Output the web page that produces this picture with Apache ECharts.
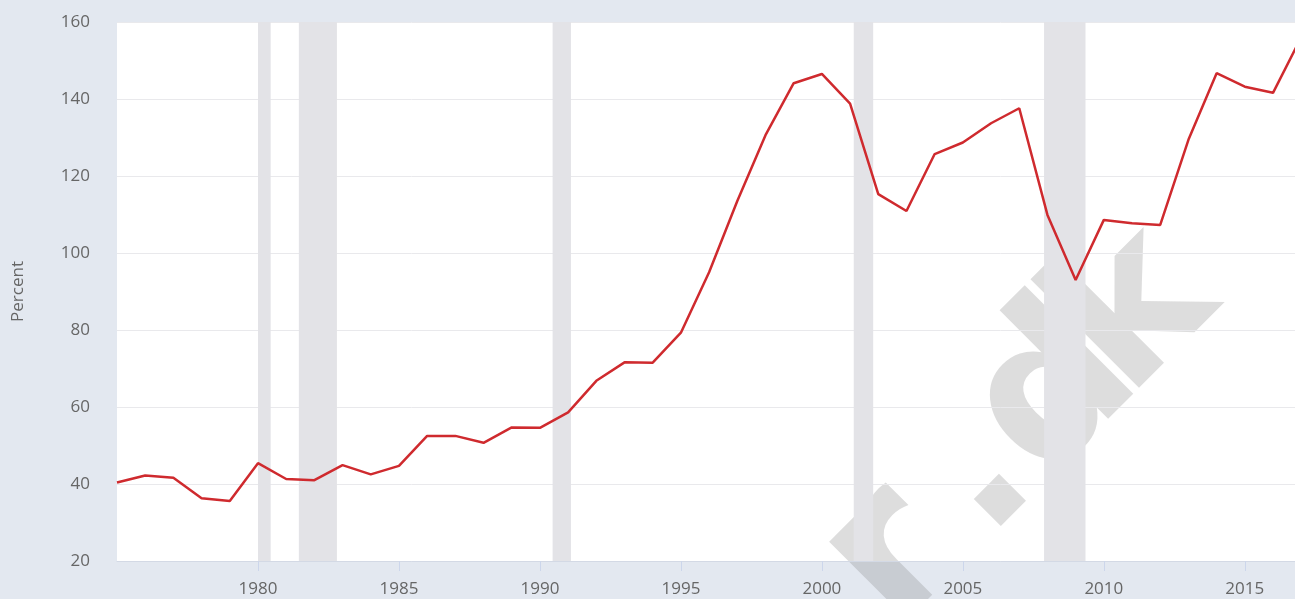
<!DOCTYPE html>
<html>
<head>
<meta charset="utf-8">
<script src="https://cdn.jsdelivr.net/npm/echarts@6/dist/echarts.min.js"></script>
<style>
  html, body { margin: 0; padding: 0; background: #e3e8f0; }
  #chart { width: 1295px; height: 599px; }
</style>
</head>
<body>
<div id="chart"></div>
<script>
// yearly values
var years = [1975, 1976, 1977, 1978, 1979, 1980, 1981, 1982, 1983, 1984,
  1985, 1986, 1987, 1988, 1989, 1990, 1991, 1992, 1993, 1994,
  1995, 1996, 1997, 1998, 1999, 2000, 2001, 2002, 2003, 2004,
  2005, 2006, 2007, 2008, 2009, 2010, 2011, 2012, 2013, 2014,
  2015, 2016, 2017];
var percent = [40.4, 42.2, 41.6, 36.3, 35.6, 45.4, 41.3, 41.0, 44.9, 42.5,
  44.7, 52.5, 52.5, 50.7, 54.7, 54.6, 58.6, 66.8, 71.6, 71.5,
  79.3, 95.0, 113.5, 130.6, 144.1, 146.5, 138.8, 115.3, 110.9, 125.7,
  128.7, 133.7, 137.6, 109.9, 93.0, 108.6, 107.7, 107.3, 129.4, 146.7,
  143.2, 141.6, 156.0];

// shaded recessions (start, end as fractional years)
var recessionStart = [1980.0, 1981.45, 1990.45, 2001.13, 2007.88];
var recessionEnd = [1980.45, 1982.8, 1991.1, 2001.82, 2009.35];

var yTicks = [20, 40, 60, 80, 100, 120, 140, 160];

// watermark letters and their offsets along the rotated baseline
var markLetters = ['r', '.', 'd', 'k'];
var markOffsets = [-255, -126, -46, 73];

var chart = echarts.init(document.getElementById('chart'));

var points = [];
for (var i = 0; i < years.length; i++) {
  points.push([years[i], percent[i]]);
}
var bands = [];
for (var j = 0; j < recessionStart.length; j++) {
  bands.push([{ xAxis: recessionStart[j] }, { xAxis: recessionEnd[j] }]);
}
var markChildren = [];
for (var k = 0; k < markLetters.length; k++) {
  markChildren.push({
    type: 'text',
    x: markOffsets[k],
    y: 9,
    silent: true,
    style: {
      text: markLetters[k],
      font: 'bold 202px "DejaVu Sans"',
      fill: 'rgba(120,120,120,0.25)',
      align: 'left',
      verticalAlign: 'middle',
      textAlign: 'left',
      textVerticalAlign: 'middle'
    }
  });
}

var labelFont = '"Open Sans", sans-serif';

chart.setOption({
  backgroundColor: '#e3e8f0',
  animation: false,
  grid: {
    left: 117, right: 0, top: 22, bottom: 38,
    outerBoundsMode: 'none',
    containLabel: false,
    show: true, backgroundColor: '#ffffff', borderWidth: 0
  },
  xAxis: {
    type: 'value',
    min: 1975,
    max: 2016.78,
    interval: 5,
    axisLine: { show: true, lineStyle: { color: '#d3d9e5', width: 1 } },
    axisTick: { show: true, length: 10, lineStyle: { color: '#ccd6eb' } },
    splitLine: { show: false },
    axisLabel: {
      showMinLabel: false,
      showMaxLabel: false,
      margin: 20,
      color: '#666666',
      fontSize: 17,
      fontFamily: labelFont,
      formatter: function (v) { return String(Math.round(v)); }
    }
  },
  yAxis: {
    type: 'value',
    min: yTicks[0],
    max: yTicks[yTicks.length - 1],
    interval: 20,
    name: 'Percent',
    nameLocation: 'middle',
    nameGap: 90,
    nameRotate: 90,
    nameTextStyle: { color: '#666666', fontSize: 17, fontFamily: labelFont },
    axisLine: { show: false },
    axisTick: { show: false },
    splitLine: { lineStyle: { color: '#e9e9ec', width: 1 } },
    axisLabel: {
      margin: 27,
      color: '#666666',
      fontSize: 17,
      fontFamily: labelFont
    }
  },
  series: [{
    type: 'line',
    data: points,
    showSymbol: false,
    lineStyle: { color: '#cf2a2e', width: 2.5 },
    itemStyle: { color: '#cf2a2e' },
    markArea: {
      silent: true,
      itemStyle: { color: '#e3e3e7' },
      data: bands
    }
  }],
  graphic: [{
    type: 'group',
    x: 1032,
    y: 408,
    rotation: Math.PI / 4,
    z: 100,
    silent: true,
    children: markChildren
  }]
});
</script>
</body>
</html>
